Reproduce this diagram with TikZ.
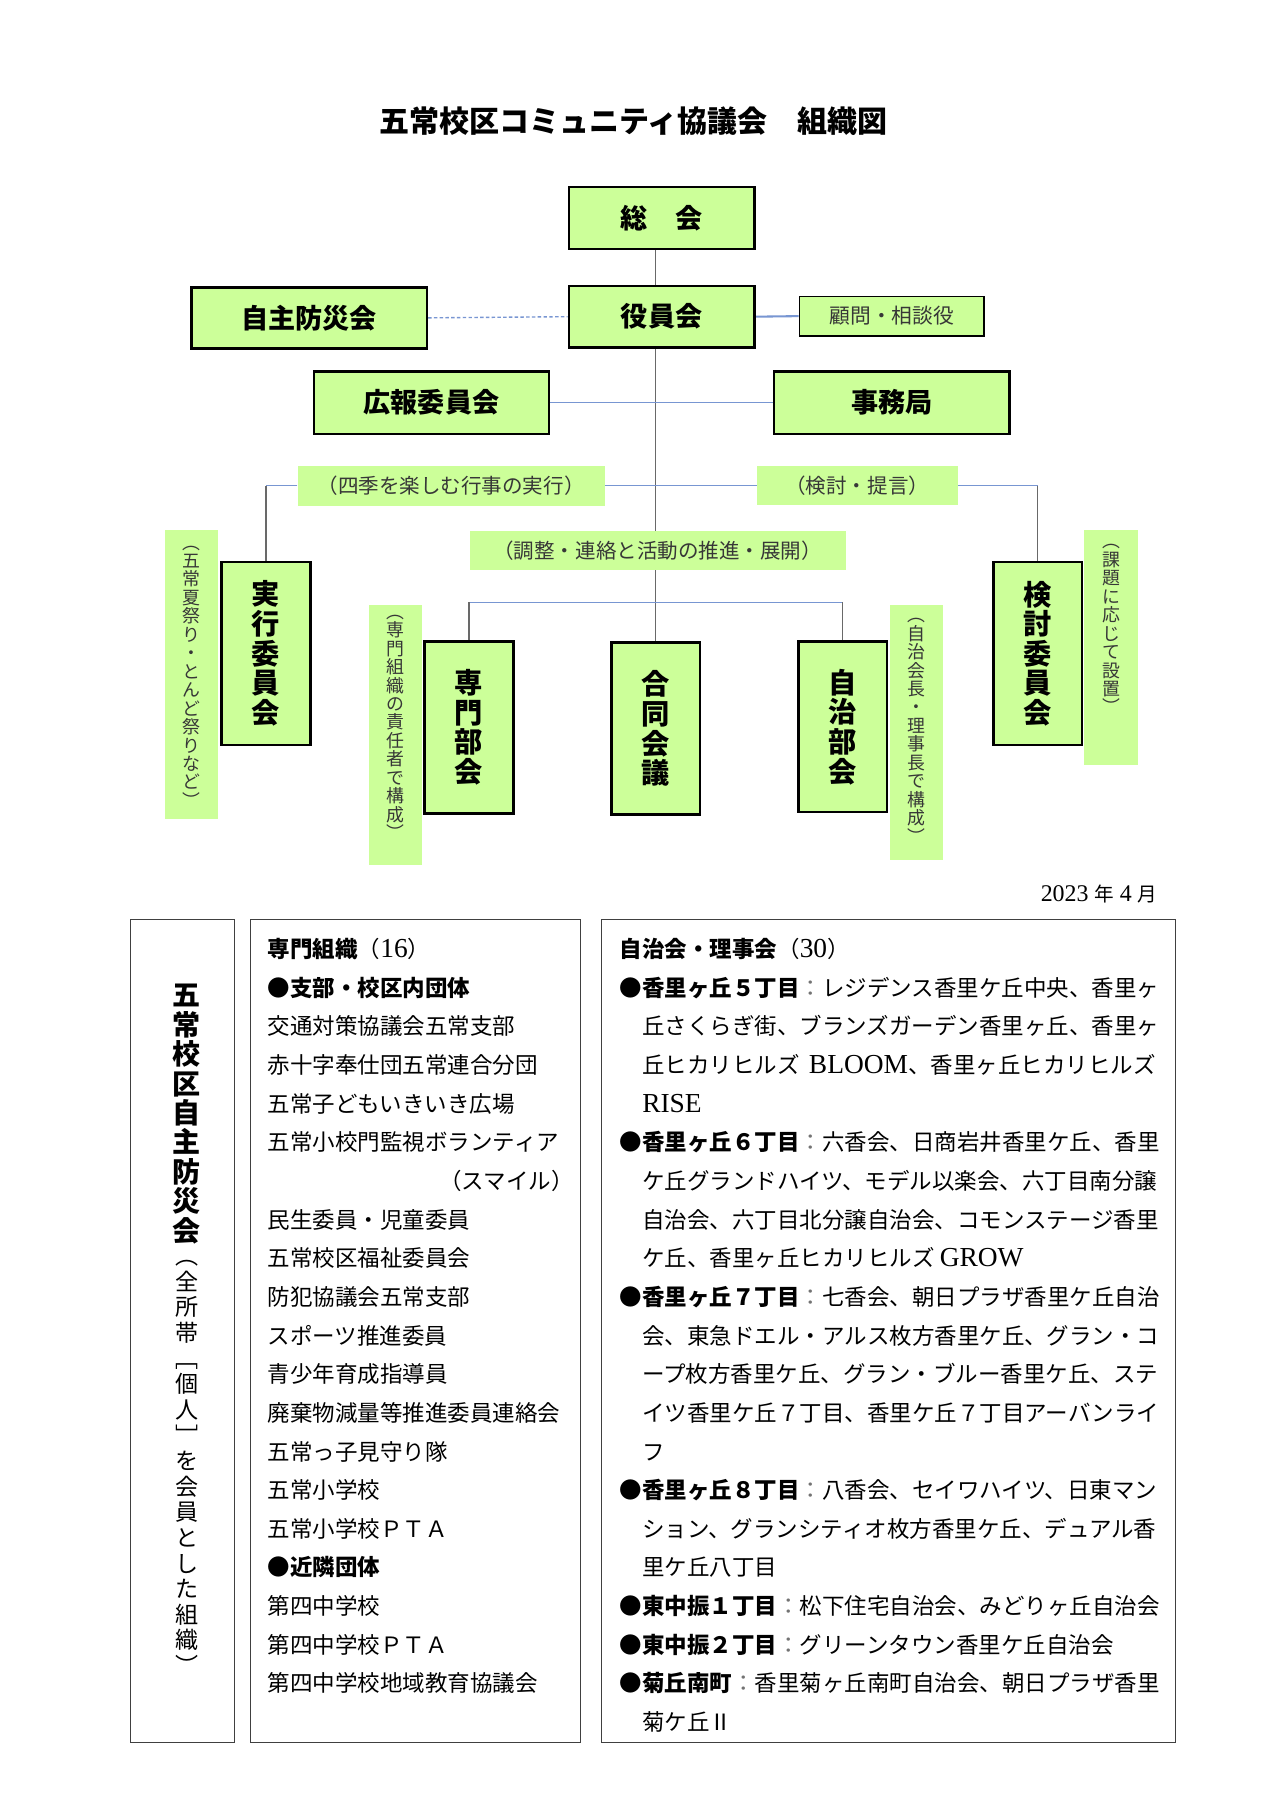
\documentclass[tikz,border=0pt]{standalone}
\usepackage{fontspec}
\setmainfont{Noto Sans CJK JP}
\newfontfamily\lat[Scale=1.22]{Liberation Serif}
\usetikzlibrary{positioning,backgrounds}
\definecolor{boxgreen}{RGB}{204,255,153}
\definecolor{lineblue}{RGB}{120,150,210}
\definecolor{linegray}{RGB}{105,105,105}
\definecolor{labeltext}{RGB}{55,55,55}
% stack the characters of #1 one below the other
\newcommand\tate[1]{\tatefirst#1\relax}
\def\tatefirst#1{#1\taterest}
\def\taterest#1{\ifx\relax#1\else\\#1\expandafter\taterest\fi}
\newcommand\hd[1]{{\bfseries ●#1}{\color{black!55}：}}
\tikzset{
  topbox/.style={draw, line width=2.2pt, fill=boxgreen, inner sep=0pt,
    font=\fontsize{23.5}{25}\selectfont\bfseries},
  vbox/.style={draw, line width=2pt, fill=boxgreen, minimum width=77, inner sep=0pt,
    align=center, font=\fontsize{24.5}{25.7}\selectfont\bfseries},
  strip/.style={fill=boxgreen, minimum width=46, inner sep=0pt},
  vlabel/.style={align=center, inner sep=0pt, text=labeltext,
    font=\fontsize{15.5}{16}\selectfont},
  hlabel/.style={fill=boxgreen, inner sep=0pt, text=labeltext,
    font=\fontsize{17.8}{19}\selectfont},
  listbox/.style={draw=black!75, line width=0.9pt, inner sep=0pt},
  item/.style={anchor=base west, inner sep=0pt, font=\fontsize{19.5}{20}\selectfont},
  blueline/.style={draw=lineblue, line width=1.2pt},
  grayline/.style={draw=linegray, line width=1pt}
}
\begin{document}
\begin{tikzpicture}[x=1pt, y=-1pt]
  \useasboundingbox (0,0) rectangle (1109,1568);
  \node[font=\fontsize{26}{28}\selectfont\bfseries] (title) at (549,105)
    {五常校区コミュニティ協議会　組織図};

  % upper boxes
  \node[topbox, minimum width=161, minimum height=54] (soukai) at (573.5,189) {総　会};
  \node[topbox, minimum width=161, minimum height=53] (yakuin) at (573.5,274.5) {役員会};
  \node[topbox, minimum width=204, minimum height=53] (jishu) at (268,275.5) {自主防災会};
  \node[draw, line width=1.5pt, fill=boxgreen, minimum width=160, minimum height=34,
    text=labeltext, font=\fontsize{18}{19}\selectfont] (komon) at (773,274) {顧問・相談役};
  \node[topbox, minimum width=204, minimum height=54] (kouhou) at (374,349) {広報委員会};
  \node[topbox, minimum width=204, minimum height=54] (jimu) at (773,349) {事務局};

  % labels on the lines
  \node[hlabel, minimum width=266, minimum height=35] (siki) at (391,421) {（四季を楽しむ行事の実行）};
  \node[hlabel, minimum width=174, minimum height=34] (kento) at (743,421) {（検討・提言）};
  \node[hlabel, minimum width=326, minimum height=34] (chousei) at (570,477) {（調整・連絡と活動の推進・展開）};

  % lower boxes
  \node[vbox, minimum height=159] (jikko) at (230.5,566.5) {\tate{実行委員会}};
  \node[vbox, minimum height=159] (kentoi) at (899.5,566.5) {\tate{検討委員会}};
  \node[vbox, minimum height=149] (senmon) at (406.5,630.5) {\tate{専門部会}};
  \node[vbox, minimum height=149] (goudou) at (568.5,631.5) {\tate{合同会議}};
  \node[vbox, minimum height=148] (jichi) at (730.5,630) {\tate{自治部会}};

  % side notes
  \node[strip, minimum height=251] (s1) at (166,584.5) {};
  \node[vlabel, below=14pt of s1.north] (s1t) {\tate{︵五常夏祭り・とんど祭りなど︶}};
  \node[strip, minimum height=226] (s2) at (343,637) {};
  \node[vlabel, below=9pt of s2.north] (s2t) {\tate{︵専門組織の責任者で構成︶}};
  \node[strip, minimum height=221] (s3) at (794,634.5) {};
  \node[vlabel, below=12pt of s3.north] (s3t) {\tate{︵自治会長・理事長で構成︶}};
  \node[strip, minimum height=204] (s4) at (963,561) {};
  \node[vlabel, below=13pt of s4.north] (s4t) {\tate{︵課題に応じて設置︶}};

  \coordinate (bus) at (569,522);
  \begin{scope}[on background layer]
    \fill[white] (0,0) rectangle (1109,1568);
    \draw[grayline] (soukai.south -| goudou.north) -- (yakuin.north -| goudou.north);
    \draw[grayline] (yakuin.south -| goudou.north) -- (goudou.north);
    \draw[blueline, dash pattern=on 3pt off 2pt] (jishu.east) -- (yakuin.west);
    \draw[blueline, line width=1.8pt] (yakuin.east) -- (komon.west);
    \draw[blueline] (kouhou.east) -- (jimu.west);
    \draw[blueline] (siki.west) -- (siki.west -| jikko.north);
    \draw[grayline] (siki.west -| jikko.north) -- (jikko.north);
    \draw[blueline] (siki.east) -- (kento.west);
    \draw[blueline] (kento.east) -- (kento.east -| kentoi.north);
    \draw[grayline] (kento.east -| kentoi.north) -- (kentoi.north);
    \draw[blueline] (senmon.north |- bus) -- (jichi.north |- bus);
    \draw[grayline] (senmon.north |- bus) -- (senmon.north);
    \draw[grayline] (jichi.north |- bus) -- (jichi.north);
  \end{scope}

  \node[anchor=base east, font=\fontsize{17}{20}\selectfont] (date) at (1006.5,781)
    {{\lat 2023}\hspace{5pt}年\hspace{5pt}{\lat 4}\hspace{5pt}月};

  % member lists
  \node[listbox, minimum width=90, minimum height=713] (bousai) at (158,1153.5) {};
  \node[anchor=north, align=center, inner sep=0pt,
    font=\fontsize{24.3}{25.5}\selectfont\bfseries] (bousainame) at (162,853) {\tate{五常校区自主防災会}};
  \node[below=14pt of bousainame, align=center, inner sep=0pt,
    font=\fontsize{20}{22.2}\selectfont] (bousainote) {\tate{︵全所帯﹇個人﹈を会員とした組織︶}};

  \node[listbox, minimum width=286, minimum height=713] (senmonlist) at (360,1153.5) {};
  \foreach \t [count=\i from 0] in {
    {{\bfseries 専門組織}（{\lat 16}）},
    {{\bfseries ●支部・校区内団体}},
    交通対策協議会五常支部,
    赤十字奉仕団五常連合分団,
    五常子どもいきいき広場,
    五常小校門監視ボランティア,
    {\makebox[265pt][r]{（スマイル）}},
    民生委員・児童委員,
    五常校区福祉委員会,
    防犯協議会五常支部,
    スポーツ推進委員,
    青少年育成指導員,
    廃棄物減量等推進委員連絡会,
    五常っ子見守り隊,
    五常小学校,
    五常小学校ＰＴＡ,
    {{\bfseries ●近隣団体}},
    第四中学校,
    第四中学校ＰＴＡ,
    第四中学校地域教育協議会}
    \node[item] (sm-\i) at (232,{830+33.5*\i}) {\t};

  \node[listbox, minimum width=498, minimum height=713] (jichilist) at (770,1153.5) {};
  \foreach \t [count=\i from 0] in {
    {{\bfseries 自治会・理事会}（{\lat 30}）},
    {\hd{香里ヶ丘５丁目}レジデンス香里ケ丘中央、香里ヶ},
    {　丘さくらぎ街、ブランズガーデン香里ヶ丘、香里ヶ},
    {　丘ヒカリヒルズ\hspace{8pt}{\lat BLOOM}、香里ヶ丘ヒカリヒルズ},
    {　{\lat RISE}},
    {\hd{香里ヶ丘６丁目}六香会、日商岩井香里ケ丘、香里},
    {　ケ丘グランドハイツ、モデル以楽会、六丁目南分譲},
    {　自治会、六丁目北分譲自治会、コモンステージ香里},
    {　ケ丘、香里ヶ丘ヒカリヒルズ {\lat GROW}},
    {\hd{香里ヶ丘７丁目}七香会、朝日プラザ香里ケ丘自治},
    {　会、東急ドエル・アルス枚方香里ケ丘、グラン・コ},
    {　ープ枚方香里ケ丘、グラン・ブルー香里ケ丘、ステ},
    {　イツ香里ケ丘７丁目、香里ケ丘７丁目アーバンライ},
    {　フ},
    {\hd{香里ヶ丘８丁目}八香会、セイワハイツ、日東マン},
    {　ション、グランシティオ枚方香里ケ丘、デュアル香},
    {　里ケ丘八丁目},
    {\hd{東中振１丁目}松下住宅自治会、みどりヶ丘自治会},
    {\hd{東中振２丁目}グリーンタウン香里ケ丘自治会},
    {\hd{菊丘南町}香里菊ヶ丘南町自治会、朝日プラザ香里},
    {　菊ケ丘Ⅱ}}
    \node[item] (jl-\i) at (537,{830+33.5*\i}) {\t};
\end{tikzpicture}
\end{document}
